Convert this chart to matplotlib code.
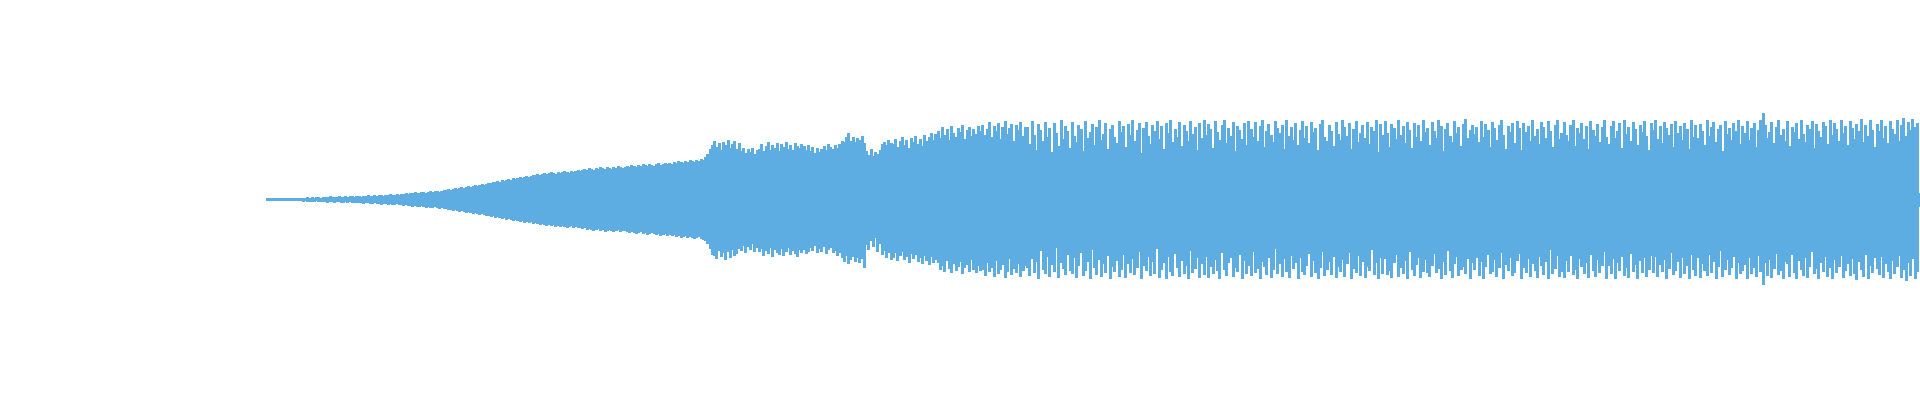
#!/usr/bin/env python3
import sys

import numpy as np
import matplotlib
matplotlib.use("Agg")
import matplotlib.pyplot as plt

WAVE_COLOR = "#5DADE2"

# solid core of the waveform, read at a few x positions (pixels)
core_x = [267, 330, 400, 450, 500, 550, 600, 650, 700, 706, 712, 738, 745, 760,
          800, 830, 848, 864, 869, 878, 884, 920, 960, 1000, 1918]
core_top = [0.6, 1, 3, 7, 14, 20, 25, 28, 30, 33, 39, 40, 36, 41,
            41, 39, 43, 42, 36, 36, 41, 41, 38, 34, 34]
core_bottom = [0.6, 1, 3, 7, 14, 20, 24, 27, 30, 33, 39, 41, 37, 41,
               40, 39, 43, 42, 36, 36, 41, 41, 38, 33, 33]

# peak per bar above the centre line (20 bars per row)
peaks_top = [
    1, 1, 1, 1, 1, 1, 1, 1, 1, 1, 1, 1, 1, 1, 1, 1, 1, 1, 2, 1,
    2, 1, 2, 2, 1, 2, 2, 2, 3, 2, 2, 2, 3, 2, 2, 3, 2, 3, 3, 2,
    3, 3, 2, 3, 3, 4, 3, 3, 4, 3, 4, 4, 3, 4, 4, 5, 4, 4, 5, 4,
    5, 5, 6, 5, 6, 6, 7, 6, 6, 7, 7, 6, 7, 8, 7, 8, 8, 7, 8, 9,
    9, 10, 9, 10, 11, 10, 11, 12, 11, 12, 13, 12, 13, 14, 13, 14, 15, 14, 15, 16,
    16, 17, 17, 18, 17, 19, 18, 19, 20, 19, 21, 20, 21, 22, 21, 22, 23, 22, 23, 24,
    24, 25, 24, 25, 26, 25, 26, 27, 26, 25, 27, 26, 27, 28, 27, 26, 28, 27, 28, 29,
    28, 29, 30, 29, 31, 30, 29, 31, 30, 32, 31, 30, 32, 31, 30, 32, 31, 33, 32, 31,
    32, 33, 32, 34, 33, 32, 34, 33, 35, 34, 33, 35, 34, 33, 35, 36, 34, 35, 36, 35,
    36, 35, 37, 36, 38, 37, 36, 38, 37, 39, 38, 37, 39, 38, 40, 39, 42, 45, 50, 54,
    58, 52, 56, 49, 57, 54, 59, 51, 55, 58, 50, 56, 48, 51, 46, 50, 47, 51, 45, 49,
    50, 55, 48, 53, 57, 49, 54, 51, 56, 48, 55, 52, 57, 50, 54, 49, 56, 53, 51, 55,
    53, 49, 54, 48, 52, 46, 51, 47, 50, 53, 49, 55, 52, 50, 54, 51, 55, 58, 57, 62,
    66, 58, 62, 57, 61, 59, 63, 56, 48, 44, 50, 43, 47, 45, 49, 55, 57, 54, 59, 56,
    55, 60, 52, 58, 62, 54, 59, 51, 61, 57, 63, 55, 60, 53, 64, 58, 62, 66, 59, 65,
    68, 61, 72, 64, 70, 59, 73, 66, 62, 71, 67, 74, 60, 69, 72, 63, 70, 65, 73, 68,
    74, 64, 70, 77, 62, 73, 68, 76, 60, 72, 78, 65, 71, 75, 58, 74, 69, 77, 63, 72,
    72, 55, 78, 64, 49, 75, 69, 58, 77, 62, 71, 47, 76, 66, 53, 79, 60, 73, 68, 51,
    77, 63, 57, 74, 70, 48, 78, 61, 67, 75, 54, 72, 79, 59, 65, 76, 50, 70, 74, 62,
    56, 78, 67, 73, 52, 75, 64, 79, 58, 69, 76, 46, 71, 77, 63, 55, 74, 68, 78, 60,
    73, 50, 76, 66, 79, 57, 70, 62, 77, 53, 74, 68, 58, 78, 65, 72, 49, 76, 61, 79,
    64, 75, 70, 51, 78, 67, 59, 74, 79, 56, 71, 63, 77, 48, 73, 69, 60, 76, 54, 78,
    70, 62, 77, 58, 73, 79, 52, 68, 75, 64, 57, 78, 71, 66, 74, 50, 79, 63, 72, 59,
    76, 54, 69, 78, 61, 73, 56, 77, 67, 71, 49, 75, 79, 62, 58, 74, 68, 53, 77, 65,
    59, 79, 72, 63, 76, 50, 70, 78, 57, 66, 74, 61, 77, 55, 72, 68, 79, 47, 75, 64,
    78, 66, 52, 75, 71, 60, 79, 64, 73, 56, 77, 69, 51, 76, 62, 74, 58, 79, 67, 71,
    54, 77, 68, 61, 79, 73, 48, 70, 76, 63, 57, 78, 66, 72, 53, 75, 80, 61, 69, 74,
    65, 72, 57, 78, 62, 75, 69, 52, 77, 71, 59, 74, 79, 64, 50, 73, 67, 76, 56, 78,
    71, 49, 76, 67, 73, 58, 79, 63, 70, 55, 77, 72, 61, 78, 68, 52, 74, 79, 60, 66,
    77, 64, 58, 74, 79, 53, 71, 66, 76, 60, 73, 50, 78, 69, 63, 75, 57, 72, 79, 62,
    55, 73, 78, 61, 68, 76, 51, 79, 65, 72, 58, 77, 70, 54, 74, 67, 78, 63, 49, 76,
    69, 79, 60, 73, 56, 77, 71, 64, 75, 52, 78, 66, 73, 59, 76, 70, 50, 79, 62, 74,
    61, 75, 68, 54, 79, 63, 72, 77, 57, 70, 74, 48, 78, 65, 71, 59, 76, 68, 79, 55,
    73, 66, 78, 59, 71, 76, 52, 69, 79, 86, 74, 61, 67, 77, 56, 72, 79, 64, 70, 58,
    78, 53, 72, 67, 76, 60, 79, 65, 57, 74, 70, 78, 51, 75, 68, 62, 77, 73, 55, 79,
    64, 76, 70, 58, 79, 66, 73, 54, 78, 71, 60, 75, 68, 80, 57, 74, 63, 79, 69, 52,
    75, 68, 79, 61, 73, 56, 78, 70, 65, 79, 58, 74, 81, 63, 77, 69, 80, 72, 76, 6,
]

# peak per bar below the centre line
peaks_bottom = [
    1, 1, 1, 1, 1, 1, 1, 1, 1, 1, 1, 1, 1, 1, 1, 1, 2, 1, 2, 2,
    2, 2, 1, 2, 2, 2, 2, 3, 2, 2, 3, 2, 2, 3, 3, 2, 3, 2, 3, 3,
    3, 3, 3, 4, 3, 3, 4, 4, 3, 4, 4, 5, 4, 4, 5, 4, 5, 5, 4, 5,
    5, 6, 5, 6, 6, 7, 6, 7, 7, 6, 7, 8, 7, 8, 8, 7, 8, 9, 8, 9,
    9, 10, 10, 11, 10, 11, 12, 11, 12, 13, 12, 13, 14, 13, 14, 15, 14, 15, 16, 16,
    17, 16, 18, 17, 18, 19, 18, 20, 19, 20, 21, 20, 21, 22, 21, 23, 22, 23, 22, 24,
    23, 24, 25, 24, 25, 26, 25, 26, 25, 27, 26, 27, 26, 27, 28, 27, 26, 28, 27, 28,
    28, 29, 28, 30, 29, 30, 31, 30, 29, 31, 30, 32, 31, 30, 31, 32, 31, 30, 32, 31,
    31, 32, 33, 32, 33, 34, 33, 32, 34, 33, 35, 34, 33, 34, 35, 34, 36, 35, 34, 36,
    35, 36, 35, 37, 36, 38, 37, 36, 38, 37, 38, 39, 38, 37, 39, 40, 41, 44, 49, 55,
    56, 59, 51, 57, 53, 60, 52, 58, 50, 56, 54, 49, 51, 46, 53, 47, 50, 44, 52, 48,
    52, 49, 56, 51, 54, 48, 57, 50, 53, 55, 49, 56, 52, 48, 55, 51, 54, 57, 50, 53,
    50, 54, 52, 48, 51, 46, 53, 49, 52, 47, 54, 50, 48, 53, 51, 56, 53, 58, 62, 56,
    64, 60, 57, 62, 58, 63, 59, 68, 45, 50, 41, 47, 38, 52, 44, 55, 51, 58, 53, 60,
    58, 53, 61, 56, 52, 60, 57, 63, 54, 59, 55, 62, 58, 64, 56, 61, 65, 57, 63, 60,
    63, 70, 66, 72, 61, 69, 73, 64, 71, 67, 62, 74, 68, 65, 72, 60, 70, 73, 66, 71,
    70, 76, 63, 72, 68, 77, 61, 74, 70, 65, 78, 72, 59, 75, 69, 73, 64, 77, 71, 66,
    68, 76, 59, 73, 62, 79, 51, 70, 74, 57, 77, 65, 72, 48, 78, 63, 69, 75, 55, 71,
    74, 58, 78, 66, 53, 76, 71, 62, 79, 50, 68, 75, 60, 77, 64, 73, 56, 79, 67, 72,
    61, 77, 70, 55, 78, 64, 73, 59, 75, 68, 52, 79, 66, 71, 57, 76, 62, 74, 49, 78,
    70, 63, 79, 57, 72, 76, 54, 68, 77, 61, 74, 66, 79, 51, 73, 69, 58, 78, 64, 75,
    57, 78, 67, 74, 60, 71, 79, 53, 70, 76, 63, 58, 77, 68, 72, 55, 79, 61, 74, 66,
    76, 52, 73, 69, 79, 62, 67, 75, 58, 78, 70, 49, 74, 64, 77, 59, 72, 78, 56, 69,
    63, 79, 58, 72, 75, 66, 54, 77, 61, 73, 79, 68, 52, 76, 70, 62, 75, 57, 78, 67,
    72, 60, 77, 64, 53, 79, 69, 73, 56, 76, 62, 78, 67, 71, 50, 75, 63, 79, 58, 74,
    59, 75, 71, 78, 63, 55, 77, 68, 74, 61, 79, 52, 70, 76, 65, 58, 78, 72, 60, 73,
    77, 66, 54, 73, 69, 79, 62, 75, 51, 71, 78, 64, 57, 76, 70, 67, 74, 59, 79, 63,
    70, 58, 76, 62, 79, 67, 55, 74, 72, 60, 77, 68, 53, 79, 65, 71, 58, 76, 73, 61,
    54, 79, 68, 73, 59, 77, 64, 71, 78, 57, 66, 75, 62, 79, 50, 74, 69, 56, 77, 72,
    78, 61, 72, 56, 75, 70, 79, 59, 67, 74, 63, 78, 55, 71, 77, 60, 73, 66, 52, 79,
    66, 74, 59, 79, 63, 71, 57, 76, 68, 78, 54, 72, 65, 79, 61, 73, 58, 77, 70, 56,
    73, 57, 77, 65, 72, 60, 79, 69, 53, 75, 71, 62, 78, 58, 74, 66, 79, 55, 70, 76,
    58, 78, 64, 71, 76, 55, 73, 62, 79, 67, 51, 77, 70, 60, 75, 68, 57, 79, 63, 74,
    71, 65, 79, 58, 74, 68, 77, 56, 72, 85, 63, 76, 60, 78, 69, 54, 75, 71, 79, 62,
    64, 77, 55, 73, 79, 61, 70, 76, 58, 78, 67, 52, 74, 69, 79, 63, 72, 57, 77, 68,
    79, 60, 73, 67, 56, 78, 71, 64, 76, 59, 74, 80, 62, 70, 77, 55, 79, 66, 73, 58,
    69, 75, 57, 78, 64, 72, 79, 61, 74, 67, 56, 78, 70, 81, 63, 76, 59, 79, 72, 7,
]


def plot_wave(out_path):
    fig = plt.figure(figsize=(19.2, 4), dpi=100)
    ax = fig.add_axes([0, 0, 1, 1])

    n = min(len(peaks_top), len(peaks_bottom))
    x = np.linspace(267, 1919, n)
    top = np.array(peaks_top[:n], dtype=float)
    bottom = np.array(peaks_bottom[:n], dtype=float)

    ax.fill_between(core_x, [-v for v in core_bottom], core_top,
                    color=WAVE_COLOR, linewidth=0)
    # crisp one/two pixel bars, like the original canvas drawing
    ax.vlines(x, -bottom, top, colors=WAVE_COLOR, linewidth=0.8,
              antialiased=False)

    ax.set_xlim(0, 1920)
    ax.set_ylim(-201, 199)
    ax.axis("off")

    fig.savefig(out_path, dpi=100, facecolor="white")
    print(f"[INFO] Wrote {out_path}")


def main():
    plot_wave("out.png")
    return 0


if __name__ == "__main__":
    sys.exit(main())
